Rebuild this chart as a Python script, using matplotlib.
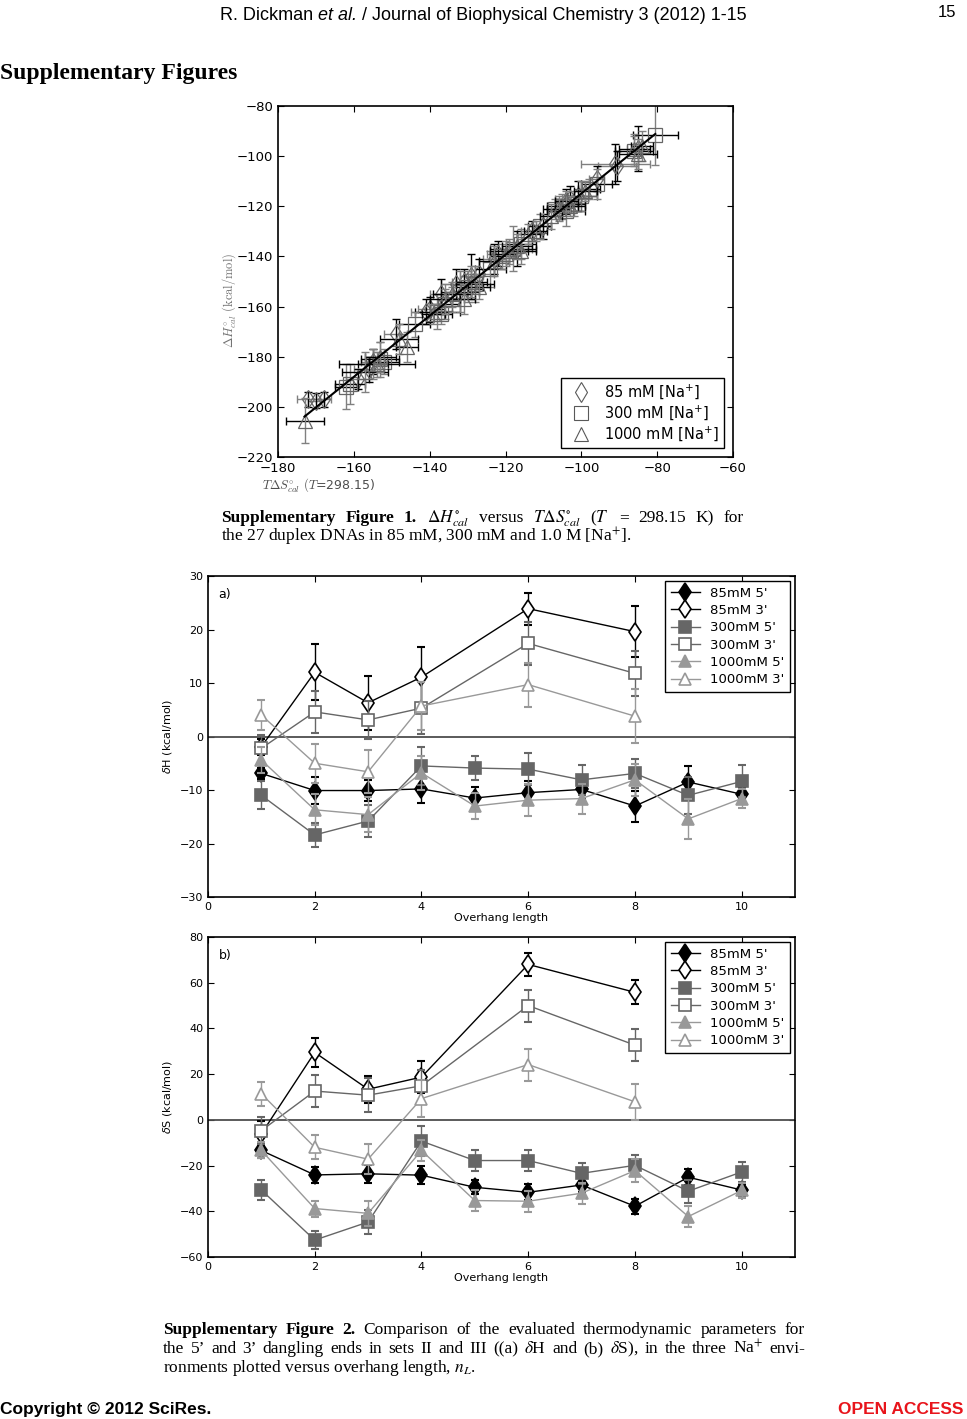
import numpy as np
import matplotlib
matplotlib.use("Agg")
import matplotlib.pyplot as plt
from matplotlib.lines import Line2D

W, H = 967, 1419

# ---- Supplementary Figure 1 data: T*dS_cal vs dH_cal (kcal/mol) ----
tds_85 = [-172, -170, -168, -159, -156, -155, -149, -141, -140, -137, -133, -131, -129, -127,
          -123, -122, -117, -113, -110, -106, -104, -103, -101, -96, -91, -90.5, -85]
dh_85 = [-197, -197.5, -197, -189, -185, -182, -171, -162, -161, -155, -151, -150, -148, -147,
         -141, -139, -137, -130, -128, -121, -118, -117, -116, -109, -103, -104, -97]
tds_85_err = [3, 2, 2, 3, 4, 3, 3, 4, 3, 3, 4, 3, 3, 4, 3, 3, 4, 3, 2, 3, 3, 4, 3, 2, 9, 5, 3]
dh_85_err = [3, 3, 3, 4, 5, 5, 6, 5, 5, 6, 6, 5, 9, 6, 6, 5, 7, 4, 5, 4, 5, 5, 6, 5, 8, 6, 9]

tds_300 = [-162, -161, -155, -153, -152, -144, -138, -137, -136, -134, -132, -130, -128, -124,
           -121, -118, -116, -111, -107, -105, -104, -102, -100, -98, -96, -86, -80.5]
dh_300 = [-192, -191, -183, -181, -182, -167, -162, -163, -159, -157, -154, -152, -151, -145,
          -140, -137, -135, -128, -121, -120, -122, -119, -116, -113, -111, -98, -91.5]
tds_300_err = [3, 4, 4, 5, 4, 4, 6, 3, 4, 3, 5, 4, 5, 4, 3, 6, 4, 3, 3, 4, 5, 3, 4, 3, 4, 5, 6]
dh_300_err = [9, 8, 6, 7, 5, 5, 7, 4, 6, 5, 8, 6, 7, 7, 5, 9, 6, 5, 4, 5, 6, 5, 6, 4, 6, 6, 12]

tds_1000 = [-173, -157, -154, -153, -148, -146, -139, -136, -134, -131, -129, -127, -123, -120,
            -119, -117, -116, -114, -112, -108, -106, -104, -103, -99, -86, -85, -84]
dh_1000 = [-205.5, -186, -183, -180, -173, -176, -163, -157, -155, -157, -150, -152, -142, -139,
           -138, -136, -138, -131, -130, -124, -121, -118, -120, -114, -97, -99, -96]
tds_1000_err = [5, 6, 10, 4, 5, 3, 3, 4, 5, 3, 4, 3, 4, 3, 5, 4, 4, 3, 3, 3, 3, 3, 4, 3, 4, 5, 3]
dh_1000_err = [9, 8, 5, 6, 6, 6, 4, 6, 5, 6, 6, 5, 6, 5, 5, 5, 5, 4, 4, 5, 5, 4, 4, 4, 6, 6, 6]

# ---- Supplementary Figure 2 data: dangling ends vs overhang length ----
n_5 = [1, 2, 3, 4, 5, 6, 7, 8, 9, 10]
n_3 = [1, 2, 3, 4, 6, 8]

dH_85_5 = [-6.9, -10.1, -10.1, -9.8, -11.5, -10.5, -9.9, -13.0, -8.5, -10.8]
dH_85_5_err = [1.0, 2.5, 1.9, 2.7, 2.0, 2.2, 1.8, 2.9, 2.9, 1.2]
dH_85_3 = [-1.9, 12.0, 6.3, 11.1, 23.9, 19.6]
dH_85_3_err = [1.5, 5.2, 5.0, 5.6, 3.0, 4.8]
dH_300_5 = [-11.0, -18.4, -15.8, -5.5, -5.9, -6.1, -8.1, -6.9, -11.0, -8.4]
dH_300_5_err = [2.6, 2.2, 3.0, 3.5, 2.3, 3.0, 2.8, 2.7, 3.5, 3.0]
dH_300_3 = [-2.2, 4.6, 3.1, 5.3, 17.4, 11.8]
dH_300_3_err = [2.5, 3.9, 3.5, 4.8, 4.0, 4.2]
dH_1000_5 = [-4.4, -13.7, -14.6, -6.8, -13.0, -11.9, -11.6, -8.1, -15.4, -11.6]
dH_1000_5_err = [2.4, 2.9, 3.3, 3.2, 2.5, 3.0, 2.8, 3.0, 3.7, 1.8]
dH_1000_3 = [4.0, -5.0, -6.6, 5.7, 9.7, 3.8]
dH_1000_3_err = [2.8, 3.6, 4.0, 4.5, 4.1, 5.0]

dS_85_5 = [-13.4, -24.1, -23.6, -24.2, -29.5, -31.7, -28.5, -37.8, -25.1, -30.7]
dS_85_5_err = [3.2, 3.5, 4.0, 3.8, 3.0, 3.5, 3.2, 3.2, 3.5, 2.5]
dS_85_3 = [-6.1, 29.5, 13.4, 18.7, 68.0, 55.8]
dS_85_3_err = [5.5, 6.4, 6.0, 7.0, 5.0, 5.3]
dS_300_5 = [-30.7, -52.6, -44.7, -9.3, -17.8, -17.8, -23.4, -19.9, -31.2, -22.8]
dS_300_5_err = [4.3, 3.8, 5.2, 6.5, 4.7, 4.7, 4.5, 4.5, 5.0, 4.5]
dS_300_3 = [-4.7, 12.6, 10.8, 14.9, 50.0, 32.7]
dS_300_3_err = [6.0, 7.0, 7.5, 7.0, 7.0, 7.0]
dS_1000_5 = [-13.4, -38.8, -40.9, -13.4, -35.3, -35.6, -32.1, -22.2, -42.3, -30.9]
dS_1000_5_err = [3.5, 3.5, 5.5, 4.8, 4.5, 4.5, 4.5, 5.0, 4.5, 3.2]
dS_1000_3 = [11.4, -12.0, -17.2, 9.3, 24.2, 7.9]
dS_1000_3_err = [5.2, 5.2, 6.5, 8.0, 7.0, 8.0]

labels2 = ["85mM 5'", "85mM 3'", "300mM 5'", "300mM 3'", "1000mM 5'", "1000mM 3'"]


def fx(px):
    return px / W


def fy(py):
    return 1 - py / H


def style_axes(ax, size):
    ax.tick_params(direction="in", top=True, right=True, labelsize=size, length=4, width=0.8)
    for s in ax.spines.values():
        s.set_linewidth(1.2)


fig = plt.figure(figsize=(W / 100, H / 100), dpi=100)
renderer = fig.canvas.get_renderer()


def text_line(x0, y, parts, x1=None, gap=4, **kw):
    # place word chunks on one baseline; spread them to x1 if given (justified text)
    texts = [fig.text(fx(x0), fy(y), s, va="baseline", **dict(kw, **extra)) for s, extra in parts]
    widths = [t.get_window_extent(renderer).width for t in texts]
    if x1 is not None and len(texts) > 1:
        gap = max(2.0, (x1 - x0 - sum(widths)) / (len(texts) - 1))
    x = x0
    for t, w in zip(texts, widths):
        t.set_x(fx(x))
        x += w + gap
    return texts


B = {"weight": "bold"}
N = {}
sans = ["Liberation Sans Narrow", "Liberation Sans"]

# page header / footer
text_line(220, 20, [("R. Dickman", N), ("et al.", {"style": "italic"}),
                    ("/ Journal of Biophysical Chemistry 3 (2012) 1-15", N)],
          x1=747, family=sans, fontsize=13)
fig.text(fx(956), fy(17), "15", family=sans, fontsize=12, ha="right", va="baseline")
fig.text(fx(0), fy(79), "Supplementary Figures", family="Liberation Serif", weight="bold",
         fontsize=17, va="baseline")
fig.text(fx(0), fy(1414), "Copyright \u00a9 2012 SciRes.", family="Liberation Sans", weight="bold",
         fontsize=12.5, va="baseline")
fig.text(fx(963), fy(1414), "OPEN ACCESS", family="Liberation Sans", weight="bold", color="#e8141b",
         fontsize=12.5, ha="right", va="baseline")

# ---- figure 1 ----
ax1 = fig.add_axes([fx(278), fy(457), (733 - 278) / W, (457 - 106) / H])
series1 = [(tds_85, dh_85, tds_85_err, dh_85_err, "d", "0.5", "k"),
           (tds_300, dh_300, tds_300_err, dh_300_err, "s", "k", "0.5"),
           (tds_1000, dh_1000, tds_1000_err, dh_1000_err, "^", "k", "0.5")]
for xs, ys, xe, ye, m, cx, cy in series1:
    ax1.errorbar(xs, ys, xerr=xe, fmt="none", ecolor=cx, elinewidth=1, capsize=3)
    ax1.errorbar(xs, ys, yerr=ye, fmt="none", ecolor=cy, elinewidth=1, capsize=3)
    ax1.plot(xs, ys, m, ms=9.5, mfc="none", mec="0.4", mew=0.9, ls="none")
allx = np.array(tds_85 + tds_300 + tds_1000)
ally = np.array(dh_85 + dh_300 + dh_1000)
k, b = np.polyfit(allx, ally, 1)
xl = np.array([allx.min(), allx.max()])
ax1.plot(xl, k * xl + b, color="k", lw=1.5)
ax1.set_xlim(-180, -60)
ax1.set_ylim(-220, -80)
ax1.set_xticks(range(-180, -59, 20))
ax1.set_yticks(range(-220, -79, 20))
style_axes(ax1, 9.5)
h1 = [Line2D([], [], marker=m, ls="none", ms=10, mfc="none", mec="0.35", mew=0.8) for m in "ds^"]
leg1 = ax1.legend(h1, ["85 mM [Na$^{+}$]", "300 mM [Na$^{+}$]", "1000 mM [Na$^{+}$]"],
                  loc="lower right", fontsize=10.5, borderaxespad=0.6, handletextpad=0.6,
                  labelspacing=0.15, borderpad=0.35, fancybox=False, framealpha=1)
leg1.get_frame().set_edgecolor("k")
fig.text(fx(229), fy(300), r"$\Delta H^{\circ}_{cal}$ $\mathrm{(kcal/mol)}$", rotation=90, color="0.45",
         fontsize=9, ha="center", va="center", math_fontfamily="cm")
fig.text(fx(262), fy(486), r"$T\Delta S^{\circ}_{cal}$ $(T$=298.15)", color="0.3",
         fontsize=9, ha="left", va="center", math_fontfamily="cm")

# caption 1 (justified first line)
cap = dict(family="Liberation Serif", fontsize=12.5, math_fontfamily="stix")
text_line(221, 522, [("Supplementary", B), ("Figure", B), ("1.", B),
                     (r"$\Delta H^{\circ}_{cal}$", N), ("versus", N), (r"$T\Delta S^{\circ}_{cal}$", N),
                     (r"($T$", N), ("=", N), ("298.15", N), ("K)", N), ("for", N)], x1=744, **cap)
text_line(221, 541, [("the 27 duplex DNAs in 85 mM, 300 mM and 1.0 M [Na$^{+}$].", N)], **cap)

# ---- figure 2 ----
c85, c300, c1000 = "k", "0.4", "0.6"
sets_a = [(n_5, dH_85_5, dH_85_5_err, "d", c85, True),
          (n_3, dH_85_3, dH_85_3_err, "d", c85, False),
          (n_5, dH_300_5, dH_300_5_err, "s", c300, True),
          (n_3, dH_300_3, dH_300_3_err, "s", c300, False),
          (n_5, dH_1000_5, dH_1000_5_err, "^", c1000, True),
          (n_3, dH_1000_3, dH_1000_3_err, "^", c1000, False)]
sets_b = [(n_5, dS_85_5, dS_85_5_err, "d", c85, True),
          (n_3, dS_85_3, dS_85_3_err, "d", c85, False),
          (n_5, dS_300_5, dS_300_5_err, "s", c300, True),
          (n_3, dS_300_3, dS_300_3_err, "s", c300, False),
          (n_5, dS_1000_5, dS_1000_5_err, "^", c1000, True),
          (n_3, dS_1000_3, dS_1000_3_err, "^", c1000, False)]

panels = [(897, 576, sets_a, (-30, 30), range(-30, 31, 10), r"$\delta$H (kcal/mol)", "a)"),
          (1257, 937, sets_b, (-60, 80), range(-60, 81, 20), r"$\delta$S (kcal/mol)", "b)")]
for bottom, top, sets, ylim, yt, ylab, tag in panels:
    ax = fig.add_axes([fx(208), fy(bottom), (795 - 208) / W, (bottom - top) / H])
    ax.axhline(0, color="0.3", lw=1.3)
    handles = []
    for xs, ys, es, m, c, filled in sets:
        ax.errorbar(xs, ys, yerr=es, fmt="none", ecolor=c, elinewidth=1, capsize=3, capthick=1.5)
        ln, = ax.plot(xs, ys, "-" + m, color=c, lw=1, ms=8 if m != "d" else 9.5,
                      mfc=c if filled else "white", mec=c, mew=1.2)
        handles.append(ln)
    ax.set_xlim(0, 11)
    ax.set_ylim(*ylim)
    ax.set_xticks(range(0, 11, 2))
    ax.set_yticks(list(yt))
    style_axes(ax, 8)
    ax.set_xlabel("Overhang length", fontsize=8, labelpad=1)
    ax.set_ylabel(ylab, fontsize=8, labelpad=4)
    ax.text(0.018, 0.93, tag, transform=ax.transAxes, fontsize=9)
    leg = ax.legend(handles, labels2, loc="upper right", fontsize=9.5, borderaxespad=0.4,
                    handlelength=2.2, labelspacing=0.33, fancybox=False, framealpha=1)
    leg.get_frame().set_edgecolor("k")

# caption 2 (justified lines)
words1 = "Comparison of the evaluated thermodynamic parameters for".split()
text_line(163, 1334, [("Supplementary", B), ("Figure", B), ("2.", B)] + [(w, N) for w in words1],
          x1=805, **cap)
words2 = ("the 5\u2019 and 3\u2019 dangling ends in sets II and III ((a) $\\delta$H and (b) $\\delta$S), "
          "in the three Na$^{+}$ envi-").split()
text_line(163, 1353, [(w, N) for w in words2], x1=805, **cap)
text_line(163, 1372, [("ronments plotted versus overhang length, $n_{L}$.", N)], **cap)

fig.savefig("out.png", dpi=100)
